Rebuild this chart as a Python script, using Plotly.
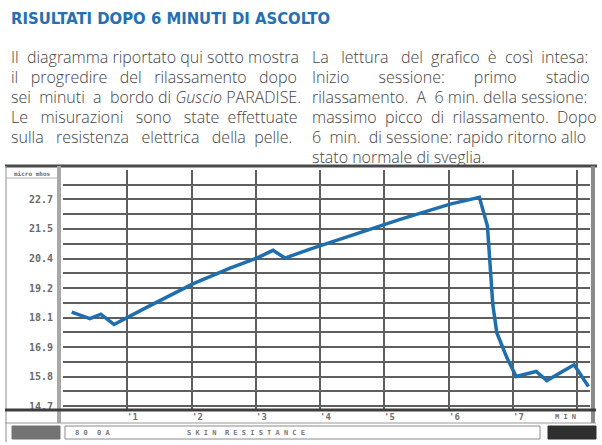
import plotly.graph_objects as go

# ---------------- data ----------------
minutes = [0.135, 0.420, 0.587, 0.794, 1.354, 2.028, 2.599, 3.015, 3.268, 3.455,
           3.844, 5.245, 6.023, 6.479, 6.604, 6.646, 6.688, 6.750, 6.906, 7.051,
           7.362, 7.528, 7.953, 8.176]
resistance = [18.34, 18.09, 18.26, 17.86, 18.59, 19.44, 20.04, 20.43, 20.73, 20.43,
              20.78, 21.93, 22.52, 22.78, 21.67, 19.89, 18.62, 17.54, 16.58, 15.85,
              16.04, 15.69, 16.30, 15.46]
y_tick_labels = ["14.7", "15.8", "16.9", "18.1", "19.2", "20.4", "21.5", "22.7"]
y_tick_values = [14.7 + i * 8 / 7 for i in range(len(y_tick_labels))]
x_tick_labels = ["'1", "'2", "'3", "'4", "'5", "'6", "'7"]
x_tick_values = [1, 2, 3, 4, 5, 6, 7]
x_unit_label = "M I N"
y_unit_label = "micro mhos"

title_text = "RISULTATI DOPO 6 MINUTI DI ASCOLTO"
left_lines = [
    "Il diagramma riportato qui sotto mostra",
    "il progredire del rilassamento dopo",
    "sei minuti a bordo di <i>Guscio</i> PARADISE.",
    "Le misurazioni sono state effettuate",
    "sulla resistenza elettrica della pelle.",
]
right_lines = [
    "La lettura del grafico è così intesa:",
    "Inizio sessione: primo stadio",
    "rilassamento. A 6 min. della sessione:",
    "massimo picco di rilassamento. Dopo",
    "6 min. di sessione: rapido ritorno allo",
    "stato normale di sveglia.",
]
# extra non-breaking spaces used to imitate the justified text of the brochure
left_pad = [1, 8, 3, 7, 7]
right_pad = [8, 18, 2, 4, 2, 0]
status_texts = ["8 0", "0 A", "S K I N\u00a0\u00a0R E S I S T A N C E"]

# ---------------- geometry helpers ----------------
W_PX, H_PX = 602, 445
L, R, T, B = 63, 590, 170, 410
PW, PH = R - L, B - T


def px(x):
    return (x - L) / PW


def py(y):
    return (B - y) / PH


def justify(line, extra):
    words = line.split(" ")
    gaps = len(words) - 1
    if gaps <= 0 or extra <= 0:
        return line
    out = words[0]
    for i, w in enumerate(words[1:]):
        n = extra // gaps + (1 if i < extra % gaps else 0)
        out += " " + "\u00a0" * n + w
    return out


fig = go.Figure()
fig.add_trace(go.Scatter(
    x=minutes, y=resistance, mode="lines",
    line=dict(color="#1f6ead", width=3.5),
    hoverinfo="skip", showlegend=False,
))

grid_col = "#5e5e5e"
fig.update_xaxes(
    range=[0, 8.2], tickmode="array", tickvals=list(range(0, 9)),
    showticklabels=False, ticks="", showgrid=True, gridcolor=grid_col, gridwidth=2,
    zeroline=False, showline=False, fixedrange=True,
)
fig.update_yaxes(
    range=[14.55, 23.84], tickmode="array", tickvals=y_tick_values, ticktext=y_tick_labels,
    showgrid=True, gridcolor=grid_col, gridwidth=1.6, zeroline=False, showline=False,
    ticks="", ticklabelstandoff=9,
    tickfont=dict(family="DejaVu Sans Mono", size=10, color="#6a6a6a", weight="bold"),
    minor=dict(tickmode="linear", tick0=14.7, dtick=4 / 7, showgrid=True,
               gridcolor=grid_col, gridwidth=1.6, ticks=""),
    fixedrange=True,
)

shapes = []
annotations = []


def hline(x0, x1, y, color, width):
    shapes.append(dict(type="line", xref="paper", yref="paper",
                       x0=px(x0), x1=px(x1), y0=py(y), y1=py(y),
                       line=dict(color=color, width=width), layer="above"))


def vline(x, y0, y1, color, width):
    shapes.append(dict(type="line", xref="paper", yref="paper",
                       x0=px(x), x1=px(x), y0=py(y0), y1=py(y1),
                       line=dict(color=color, width=width), layer="above"))


def box(x0, y0, x1, y1, fill, line_color, lw=1):
    shapes.append(dict(type="rect", xref="paper", yref="paper",
                       x0=px(x0), x1=px(x1), y0=py(y1), y1=py(y0),
                       fillcolor=fill, line=dict(color=line_color, width=lw), layer="above"))


# frame
hline(5, 597, 166, "#4a4a4a", 3)
vline(6, 166, 442, "#a0a0a0", 1.2)
vline(593, 166, 423, "#8a8a8a", 4)
vline(59, 166, 423, "#a8a8a8", 4)
hline(5, 596, 410, "#3e3e3e", 3)
hline(5, 596, 423, "#9a9a9a", 1.2)
hline(6, 57, 178, "#b0b0b0", 1)
# status bar
box(12, 426, 60, 439, "#737373", "#737373")
box(65, 426, 540, 439, "#ffffff", "#8a8a8a", 1)
box(548, 426, 596, 439, "#2f2f2f", "#2f2f2f")

annotations.append(dict(xref="paper", yref="paper", x=px(32), y=py(173.5),
                        text="<b>" + y_unit_label + "</b>", showarrow=False,
                        font=dict(family="DejaVu Sans Mono", size=6, color="#6a6a6a"),
                        xanchor="center", yanchor="middle"))

for v, t in zip(x_tick_values, x_tick_labels):
    annotations.append(dict(xref="x", yref="paper", x=v, y=py(417), text="<b>" + t + "</b>",
                            showarrow=False, xanchor="left", yanchor="middle", xshift=-2,
                            font=dict(family="DejaVu Sans Mono", size=9, color="#6f6f6f")))
annotations.append(dict(xref="paper", yref="paper", x=px(553), y=py(417),
                        text="<b>" + x_unit_label + "</b>", showarrow=False, xanchor="left",
                        yanchor="middle",
                        font=dict(family="DejaVu Sans Mono", size=7, color="#6f6f6f")))

for xpos, t in zip([73, 95, 185], status_texts):
    annotations.append(dict(xref="paper", yref="paper", x=px(xpos), y=py(432.5),
                            text="<b>" + t + "</b>", showarrow=False, xanchor="left",
                            yanchor="middle",
                            font=dict(family="DejaVu Sans Mono", size=7, color="#7a7a7a")))

# title and paragraphs
annotations.append(dict(xref="paper", yref="paper", x=px(9), y=py(18),
                        text="<b>" + title_text + "</b>", showarrow=False,
                        xanchor="left", yanchor="middle",
                        font=dict(family="DejaVu Sans Condensed", size=16.5, color="#2470b3")))

body_font = dict(family="Open Sans", size=16, color="#444444", weight=300)
for i, (t, e) in enumerate(zip(left_lines, left_pad)):
    annotations.append(dict(xref="paper", yref="paper", x=px(9), y=py(57 + 20 * i),
                            text=justify(t, e), showarrow=False, xanchor="left",
                            yanchor="middle", font=body_font))
for i, (t, e) in enumerate(zip(right_lines, right_pad)):
    annotations.append(dict(xref="paper", yref="paper", x=px(310), y=py(57 + 20 * i),
                            text=justify(t, e), showarrow=False, xanchor="left",
                            yanchor="middle", font=body_font))

fig.update_layout(
    width=W_PX, height=H_PX, autosize=False,
    margin=dict(l=L, r=W_PX - R, t=T, b=H_PX - B, pad=0),
    paper_bgcolor="white", plot_bgcolor="white",
    shapes=shapes, annotations=annotations, showlegend=False,
)

fig.write_html("out.html", config={"displayModeBar": False})
